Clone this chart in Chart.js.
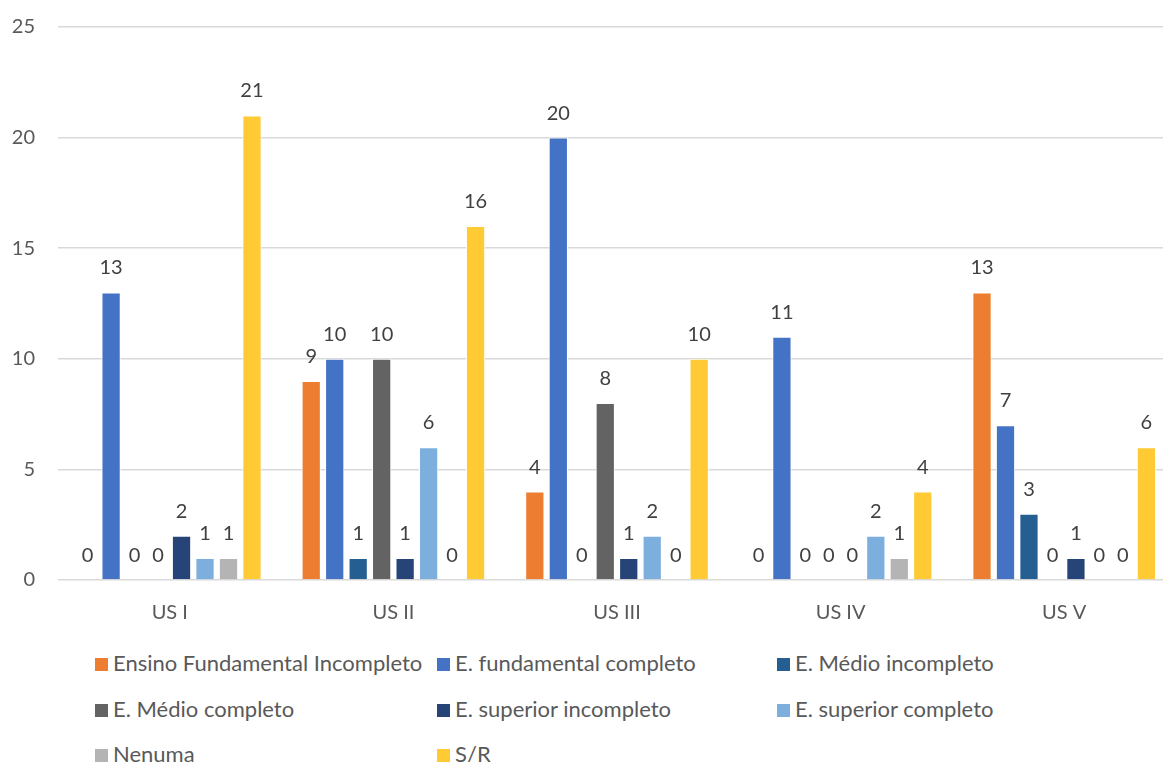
<!DOCTYPE html>
<html>
<head>
<meta charset="utf-8">
<script src="https://cdn.jsdelivr.net/npm/chart.js@4.4.0/dist/chart.umd.min.js"></script>
<style>
  html, body { margin: 0; padding: 0; background: #fff; overflow: hidden; }
  #wrap { position: absolute; left: 0; top: 0; width: 1180px; height: 630px; }
  .leg { position: absolute; font-family: Lato, "Liberation Sans", sans-serif; font-size: 22px; color: #595959; white-space: nowrap; line-height: 22px; }
  .leg i { display: inline-block; width: 13px; height: 13px; margin-right: 5px; vertical-align: 0px; }
</style>
</head>
<body>
<div id="wrap"><canvas id="myChart"></canvas></div>
<div id="legend"></div>
<script>
const categories = ['US I', 'US II', 'US III', 'US IV', 'US V'];
const seriesNames = [
    'Ensino Fundamental Incompleto',
    'E. fundamental completo',
    'E. Médio incompleto',
    'E. Médio completo',
    'E. superior incompleto',
    'E. superior completo',
    'Nenuma',
    'S/R'
];
const fundIncompleto = [0, 9, 4, 0, 13];
const fundCompleto   = [13, 10, 20, 11, 7];
const medioIncomp    = [0, 1, 0, 0, 3];
const medioCompleto  = [0, 10, 8, 0, 0];
const supIncompleto  = [2, 1, 1, 0, 1];
const supCompleto    = [1, 6, 2, 2, 0];
const nenuma         = [1, 0, 0, 1, 0];
const semResposta    = [21, 16, 10, 4, 6];
const yTicks = [0, 5, 10, 15, 20, 25];

const seriesValues = [fundIncompleto, fundCompleto, medioIncomp, medioCompleto, supIncompleto, supCompleto, nenuma, semResposta];
const seriesColors = ['#ED7D31', '#4472C4', '#255E91', '#636363', '#264478', '#7CAFDD', '#B4B4B4', '#FFCA33'];

const fontFam = 'Lato, "Liberation Sans", sans-serif';

// value labels above each bar
const barLabels = {
    id: 'barLabels',
    afterDatasetsDraw(chart) {
        const ctx = chart.ctx;
        ctx.save();
        ctx.font = '20px ' + fontFam;
        ctx.fillStyle = '#404040';
        ctx.textAlign = 'center';
        ctx.textBaseline = 'alphabetic';
        chart.data.datasets.forEach((ds, i) => {
            chart.getDatasetMeta(i).data.forEach((bar, j) => {
                ctx.fillText(String(ds.data[j]), bar.x, bar.y - 18);
            });
        });
        ctx.restore();
    }
};

function drawChart() {
    const ctx = document.getElementById('myChart').getContext('2d');
    new Chart(ctx, {
        type: 'bar',
        data: {
            labels: categories,
            datasets: seriesNames.map((name, i) => ({
                label: name,
                data: seriesValues[i],
                backgroundColor: seriesColors[i],
                borderColor: '#ffffff',
                borderWidth: 1,
                categoryPercentage: 0.84,
                barPercentage: 0.82
            }))
        },
        options: {
            responsive: true,
            maintainAspectRatio: false,
            animation: false,
            layout: { padding: { top: 27, right: 4, left: 0, bottom: 0 } },
            plugins: {
                legend: { display: false },
                tooltip: { enabled: false }
            },
            scales: {
                x: {
                    grid: { display: false, drawTicks: false },
                    border: { display: false },
                    ticks: { color: '#595959', font: { size: 20, family: fontFam }, padding: 21 },
                    afterFit(axis) { axis.height = 50; }
                },
                y: {
                    min: 0,
                    max: 25,
                    afterBuildTicks(axis) { axis.ticks = yTicks.map(v => ({ value: v })); },
                    grid: { color: '#D9D9D9', lineWidth: 1.5, drawTicks: false },
                    border: { display: false },
                    ticks: { color: '#595959', font: { size: 20, family: fontFam }, padding: 23 },
                    afterFit(axis) { axis.width = 58; axis.paddingTop = 0; axis.paddingBottom = 0; }
                }
            }
        },
        plugins: [barLabels]
    });
}

function drawLegend() {
    const cols = [95, 437, 777];
    const rows = [652, 698, 743];
    const box = document.getElementById('legend');
    seriesNames.forEach((name, i) => {
        const d = document.createElement('div');
        d.className = 'leg';
        d.style.left = cols[i % 3] + 'px';
        d.style.top = rows[Math.floor(i / 3)] + 'px';
        d.innerHTML = '<i style="background:' + seriesColors[i] + '"></i>' + name;
        box.appendChild(d);
    });
}

drawChart();
drawLegend();
</script>
</body>
</html>
